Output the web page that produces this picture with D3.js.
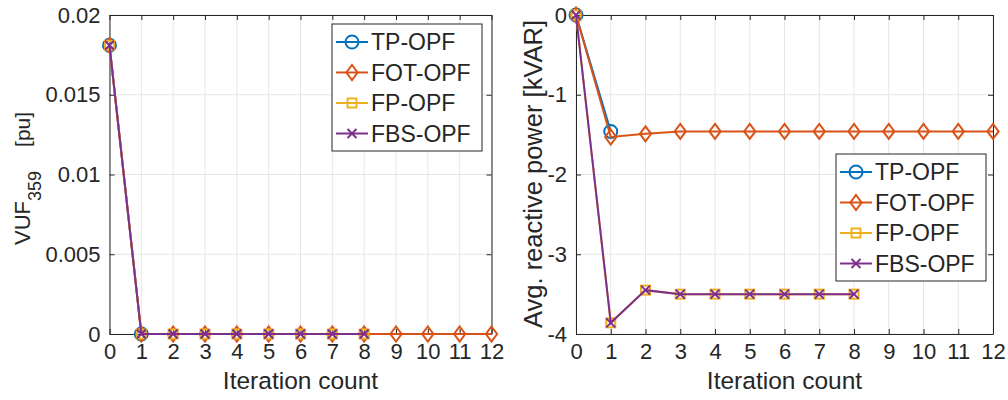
<!DOCTYPE html>
<html>
<head>
<meta charset="utf-8">
<script src="https://cdn.jsdelivr.net/npm/d3@7"></script>
<style>
  body { margin: 0; background: #fff; }
  svg text { font-family: "Liberation Sans", Arial, sans-serif; fill: #262626; }
</style>
</head>
<body>
<svg id="chart" width="1008" height="400"></svg>
<script>
// Data
const seriesNames = ['TP-OPF', 'FOT-OPF', 'FP-OPF', 'FBS-OPF'];
const seriesColors = ['#0072BD', '#D95319', '#EDB120', '#7E2F8E'];
const seriesMarkers = ['circle', 'diamond', 'square', 'cross'];

// left panel: VUF at bus 359 [pu]
const vufTP = [0.0181, 0];
const vufFOT = [0.0181, 0, 0, 0, 0, 0, 0, 0, 0, 0, 0, 0, 0];
const vufFP = [0.0181, 0, 0, 0, 0, 0, 0, 0, 0];
const vufFBS = [0.0181, 0, 0, 0, 0, 0, 0, 0, 0];

// right panel: avg. reactive power [kVAR]
const qTP = [0, -1.46];
const qFOT = [0, -1.53, -1.49, -1.46, -1.46, -1.46, -1.46, -1.46, -1.46, -1.46, -1.46, -1.46, -1.46];
const qFP = [0, -3.86, -3.45, -3.5, -3.5, -3.5, -3.5, -3.5, -3.5];
const qFBS = [0, -3.86, -3.45, -3.5, -3.5, -3.5, -3.5, -3.5, -3.5];

const xTicks = d3.range(0, 13);
const vufTicks = [0, 0.005, 0.01, 0.015, 0.02];
const qTicks = [-4, -3, -2, -1, 0];

const svg = d3.select('#chart');

function drawMarker(g, type, x, y, color) {
    if (type === 'circle') {
        g.append('circle').attr('cx', x).attr('cy', y).attr('r', 6.5)
            .attr('fill', 'none').attr('stroke', color).attr('stroke-width', 2);
    } else if (type === 'diamond') {
        const s = 7.5;
        g.append('path').attr('d', `M${x},${y - s}L${x + s * 0.75},${y}L${x},${y + s}L${x - s * 0.75},${y}Z`)
            .attr('fill', 'none').attr('stroke', color).attr('stroke-width', 2);
    } else if (type === 'square') {
        g.append('rect').attr('x', x - 4.5).attr('y', y - 4.5).attr('width', 9).attr('height', 9)
            .attr('fill', 'none').attr('stroke', color).attr('stroke-width', 2);
    } else {
        const s = 4.5;
        g.append('path').attr('d', `M${x - s},${y - s}L${x + s},${y + s}M${x - s},${y + s}L${x + s},${y - s}`)
            .attr('stroke', color).attr('stroke-width', 2);
    }
}

function drawPanel(opts) {
    const { left, right, top, bottom, yDomain, yTicks, yFmt, series } = opts;
    const x = d3.scaleLinear().domain([0, 12]).range([left, right]);
    const y = d3.scaleLinear().domain(yDomain).range([bottom, top]);
    const g = svg.append('g');

    // grid
    g.selectAll('.vgrid').data(xTicks).enter().append('line')
        .attr('x1', d => x(d)).attr('x2', d => x(d)).attr('y1', top).attr('y2', bottom)
        .attr('stroke', '#e6e6e6').attr('stroke-width', 1);
    g.selectAll('.hgrid').data(yTicks).enter().append('line')
        .attr('y1', d => y(d)).attr('y2', d => y(d)).attr('x1', left).attr('x2', right)
        .attr('stroke', '#e6e6e6').attr('stroke-width', 1);

    // axes (box on, ticks inside on all sides)
    const ax = d3.axisBottom(x).tickValues(xTicks).tickSizeInner(-5).tickSizeOuter(0).tickPadding(9);
    const ay = d3.axisLeft(y).tickValues(yTicks).tickFormat(yFmt).tickSizeInner(-5).tickSizeOuter(0).tickPadding(9);
    const axT = d3.axisTop(x).tickValues(xTicks).tickSizeInner(-5).tickSizeOuter(0).tickFormat('');
    const ayR = d3.axisRight(y).tickValues(yTicks).tickSizeInner(-5).tickSizeOuter(0).tickFormat('');
    [[ax, `translate(0,${bottom})`], [ay, `translate(${left},0)`],
     [axT, `translate(0,${top})`], [ayR, `translate(${right},0)`]].forEach(([a, t]) => {
        const ga = g.append('g').attr('transform', t).call(a);
        ga.selectAll('path,line').attr('stroke', '#262626');
        ga.selectAll('text').style('font-size', '22px').attr('fill', '#262626');
    });

    // series
    series.forEach((vals, i) => {
        const pts = vals.map((v, k) => [x(k), y(v)]);
        g.append('path').attr('d', d3.line()(pts)).attr('fill', 'none')
            .attr('stroke', seriesColors[i]).attr('stroke-width', 2);
        pts.forEach(p => drawMarker(g, seriesMarkers[i], p[0], p[1], seriesColors[i]));
    });

    // x label
    g.append('text').attr('x', (left + right) / 2).attr('y', 389).attr('text-anchor', 'middle')
        .style('font-size', '24.5px').text('Iteration count');
    return g;
}

function drawLegend(x0, y0) {
    const w = 150, h = 127, rowH = 30.5;
    const g = svg.append('g');
    g.append('rect').attr('x', x0).attr('y', y0).attr('width', w).attr('height', h)
        .attr('fill', '#fff').attr('stroke', '#262626').attr('stroke-width', 1);
    seriesNames.forEach((name, i) => {
        const cy = y0 + 18 + i * rowH;
        g.append('line').attr('x1', x0 + 4).attr('x2', x0 + 36).attr('y1', cy).attr('y2', cy)
            .attr('stroke', seriesColors[i]).attr('stroke-width', 2);
        drawMarker(g, seriesMarkers[i], x0 + 20, cy, seriesColors[i]);
        g.append('text').attr('x', x0 + 39).attr('y', cy + 8).style('font-size', '23px')
            .attr('fill', '#000').text(name);
    });
}

// left panel
const leftG = drawPanel({
    left: 109.5, right: 491.5, top: 15, bottom: 334,
    yDomain: [0, 0.02], yTicks: vufTicks, yFmt: d => d === 0 ? '0' : String(d),
    series: [vufTP, vufFOT, vufFP, vufFBS]
});
// VUF with subscript 359, then [pu]
const yl = leftG.append('text').attr('transform', 'translate(30,245) rotate(-90)')
    .attr('text-anchor', 'start').style('font-size', '22px');
yl.append('tspan').text('VUF');
yl.append('tspan').attr('dy', 11).style('font-size', '18px').text('359');
yl.append('tspan').attr('dy', -11).attr('dx', 24).style('font-size', '21px').text('[pu]');
drawLegend(332, 24);

// right panel
const rightG = drawPanel({
    left: 576, right: 993, top: 15, bottom: 334,
    yDomain: [-4, 0], yTicks: qTicks, yFmt: d => d3.format('d')(d).replace('−', '-'),
    series: [qTP, qFOT, qFP, qFBS]
});
rightG.append('text').attr('transform', 'translate(542,174) rotate(-90)')
    .attr('text-anchor', 'middle').style('font-size', '25.5px').text('Avg. reactive power [kVAR]');
drawLegend(836, 154);
</script>
</body>
</html>
